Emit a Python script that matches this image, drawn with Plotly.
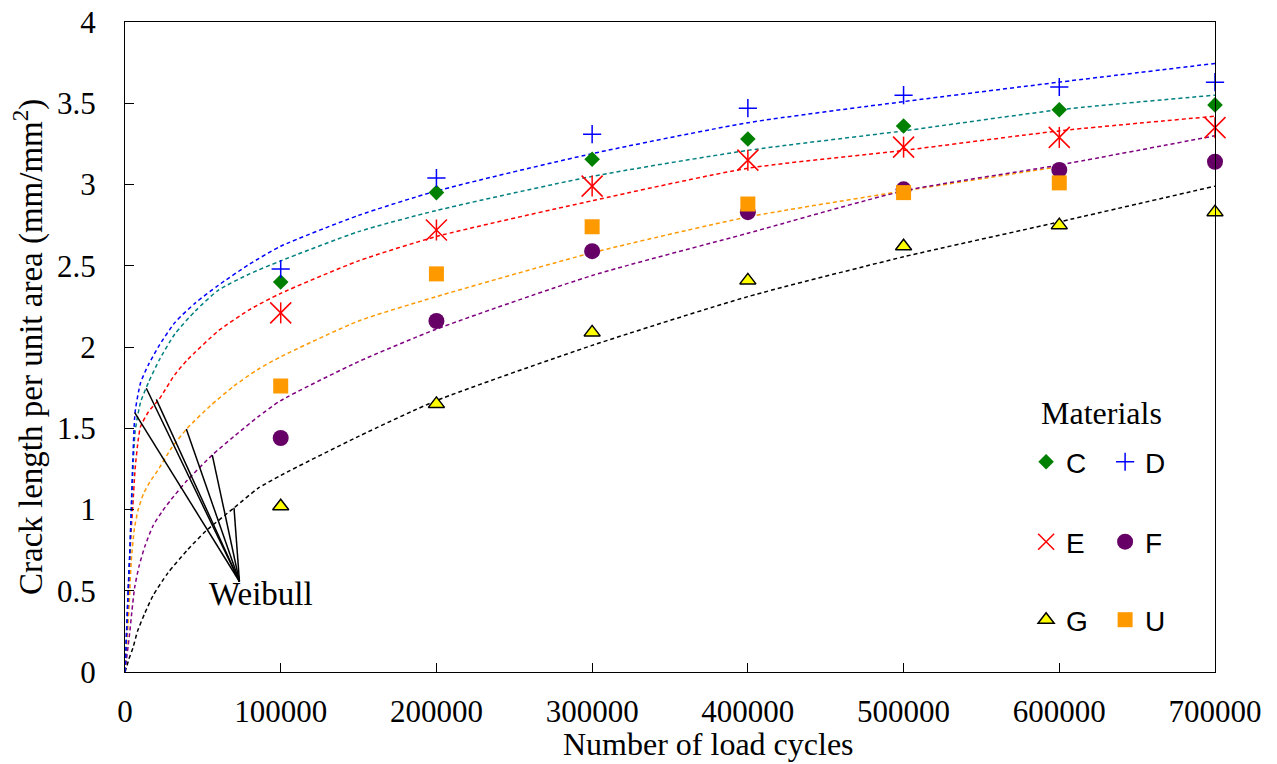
import plotly.graph_objects as go

# ---------------- data ----------------
cycles = [100000, 200000, 300000, 400000, 500000, 600000, 700000]
mat_C = [2.40, 2.95, 3.155, 3.28, 3.36, 3.46, 3.49]
mat_D = [2.48, 3.04, 3.31, 3.47, 3.55, 3.60, 3.63]
mat_E = [2.21, 2.72, 2.99, 3.15, 3.23, 3.29, 3.35]
mat_F = [1.44, 2.16, 2.59, 2.83, 2.97, 3.09, 3.14]
mat_G = [1.02, 1.65, 2.09, 2.41, 2.62, 2.75, 2.83]
mat_U = [1.76, 2.45, 2.74, 2.88, 2.95, 3.01]
cycles_U = [100000, 200000, 300000, 400000, 500000, 600000]

# Weibull fitted curves
wx_D = [0, 1000, 2000, 3000, 4000, 5000, 6500, 10000, 15000, 22000, 32000, 45000, 60000, 80000,
        100000, 150000, 200000, 300000, 400000, 500000, 600000, 700000]
wy_D = [0, 0.25, 0.50, 0.72, 1.00, 1.30, 1.60, 1.78, 1.89, 2.01, 2.15, 2.27, 2.38, 2.51,
        2.62, 2.81, 2.96, 3.19, 3.38, 3.51, 3.63, 3.745]
wx_C = [0, 1000, 2000, 3000, 4000, 5000, 6500, 10000, 15000, 22000, 32000, 45000, 60000, 80000,
        100000, 150000, 200000, 300000, 400000, 500000, 600000, 700000]
wy_C = [0, 0.24, 0.48, 0.70, 0.97, 1.22, 1.48, 1.66, 1.78, 1.92, 2.08, 2.22, 2.35, 2.45,
        2.53, 2.71, 2.84, 3.05, 3.21, 3.33, 3.46, 3.55]
wx_E = [0, 1000, 2000, 3000, 4000, 5000, 6500, 8500, 10000, 15000, 22000, 32000, 40000, 60000, 80000,
        100000, 150000, 200000, 300000, 400000, 500000, 600000, 700000]
wy_E = [0, 0.23, 0.46, 0.69, 0.88, 1.02, 1.25, 1.43, 1.51, 1.60, 1.68, 1.83, 1.92, 2.10, 2.23,
        2.33, 2.53, 2.68, 2.90, 3.10, 3.21, 3.33, 3.42]
wx_U = [0, 1000, 2000, 3000, 4000, 6000, 8500, 12000, 16000, 21000, 30000, 40000, 55000, 70000, 85000,
        100000, 150000, 200000, 300000, 400000, 500000, 600000]
wy_U = [0, 0.16, 0.30, 0.48, 0.68, 0.88, 1.00, 1.10, 1.17, 1.24, 1.38, 1.50, 1.64, 1.76, 1.86,
        1.94, 2.16, 2.31, 2.58, 2.80, 2.96, 3.11]
wx_F = [0, 1000, 2000, 3000, 4500, 6200, 9000, 12650, 18000, 24000, 29500, 40000, 56000, 70000, 85400,
        100000, 150000, 200000, 300000, 400000, 500000, 600000, 700000]
wy_F = [0, 0.08, 0.16, 0.24, 0.38, 0.52, 0.65, 0.77, 0.90, 0.99, 1.06, 1.18, 1.335, 1.45, 1.57,
        1.67, 1.91, 2.11, 2.44, 2.70, 2.96, 3.12, 3.30]
wx_G = [0, 1000, 2500, 5140, 8000, 12650, 18000, 27600, 40000, 52200, 70000, 85400,
        100000, 150000, 200000, 300000, 400000, 500000, 600000, 700000]
wy_G = [0, 0.03, 0.08, 0.15, 0.25, 0.36, 0.47, 0.61, 0.75, 0.87, 1.01, 1.13,
        1.21, 1.45, 1.67, 2.01, 2.31, 2.555, 2.77, 2.99]

x_ticks = [0, 100000, 200000, 300000, 400000, 500000, 600000, 700000]
x_tick_labels = ["0", "100000", "200000", "300000", "400000", "500000", "600000", "700000"]
y_ticks = [0, 0.5, 1, 1.5, 2, 2.5, 3, 3.5, 4]
y_tick_labels = ["0", "0.5", "1", "1.5", "2", "2.5", "3", "3.5", "4"]

# leader lines of the "Weibull" label: from common point to each curve
weibull_hub = (73500, 0.557)
weibull_targets = [(6230, 1.596), (13680, 1.746), (20100, 1.678),
                   (39370, 1.495), (56060, 1.335), (70000, 1.011)]

SERIF = "Liberation Serif"
SANS = "Liberation Sans"

fig = go.Figure()

curve_specs = [
    (wx_G, wy_G, "black"),
    (wx_U, wy_U, "#FF9900"),
    (wx_F, wy_F, "#800080"),
    (wx_E, wy_E, "#FF0000"),
    (wx_C, wy_C, "#008080"),
    (wx_D, wy_D, "#0000FF"),
]
for xs, ys, col in curve_specs:
    fig.add_trace(go.Scatter(x=xs, y=ys, mode="lines", showlegend=False,
                             line=dict(color=col, width=1.5, dash="4px,3px",
                                       shape="spline", smoothing=0.6),
                             hoverinfo="skip"))

# markers
fig.add_trace(go.Scatter(x=cycles, y=mat_C, mode="markers", name="C", legend="legend",
                         marker=dict(symbol="diamond", size=12, color="#008000"),
                         cliponaxis=False))
fig.add_trace(go.Scatter(x=cycles, y=mat_D, mode="markers", name="D", legend="legend",
                         marker=dict(symbol="cross-thin-open", size=13, color="#0000FF",
                                     line=dict(color="#0000FF", width=1.5)),
                         cliponaxis=False))
fig.add_trace(go.Scatter(x=cycles, y=mat_E, mode="markers", name="E", legend="legend2",
                         marker=dict(symbol="x-thin-open", size=21, color="#FF0000",
                                     line=dict(color="#FF0000", width=1.5)),
                         cliponaxis=False))
fig.add_trace(go.Scatter(x=cycles, y=mat_E, mode="markers", showlegend=False, legend="legend2",
                         marker=dict(symbol="line-ns-open", size=15, color="#FF0000",
                                     line=dict(color="#FF0000", width=1.5)),
                         cliponaxis=False, hoverinfo="skip"))
fig.add_trace(go.Scatter(x=cycles, y=mat_F, mode="markers", name="F", legend="legend2",
                         marker=dict(symbol="circle", size=16, color="#660066"),
                         cliponaxis=False))
fig.add_trace(go.Scatter(x=cycles, y=mat_G, mode="markers", name="G", legend="legend3",
                         marker=dict(symbol="triangle-up", size=14, color="#FFFF00",
                                     line=dict(color="black", width=1.5)),
                         cliponaxis=False))
fig.add_trace(go.Scatter(x=cycles_U, y=mat_U, mode="markers", name="U", legend="legend3",
                         marker=dict(symbol="square", size=15, color="#FF9900"),
                         cliponaxis=False))

for tx, ty in weibull_targets:
    fig.add_shape(type="line", xref="x", yref="y", x0=weibull_hub[0], y0=weibull_hub[1],
                  x1=tx, y1=ty, line=dict(color="black", width=1.5))

fig.add_annotation(x=87340, y=0.48, xref="x", yref="y", text="Weibull", showarrow=False,
                   font=dict(family=SERIF, size=33, color="black"),
                   xanchor="center", yanchor="middle")
fig.add_annotation(x=0.896, y=0.398, xref="paper", yref="paper", text="Materials",
                   showarrow=False, font=dict(family=SERIF, size=32, color="black"),
                   xanchor="center", yanchor="middle")
# axis titles
fig.add_annotation(x=0.535, y=-0.111, xref="paper", yref="paper", text="Number of load cycles",
                   showarrow=False, font=dict(family=SERIF, size=32, color="black"),
                   xanchor="center", yanchor="middle")
fig.add_annotation(x=-0.089, y=0.5, xref="paper", yref="paper", textangle=-90,
                   text="Crack length per unit area (mm/mm<sup>2</sup>)",
                   showarrow=False, font=dict(family=SERIF, size=33, color="black"),
                   xanchor="center", yanchor="middle")

leg_common = dict(orientation="h", x=0.8267, xanchor="left", yanchor="middle",
                  bgcolor="rgba(0,0,0,0)", font=dict(family=SANS, size=28, color="black"),
                  entrywidth=34, entrywidthmode="pixels", itemwidth=30, tracegroupgap=0)

fig.update_layout(
    width=1277, height=764,
    margin=dict(l=125, r=62, t=22, b=92),
    paper_bgcolor="white", plot_bgcolor="white",
    showlegend=True,
    legend=dict(y=0.323, **leg_common),
    legend2=dict(y=0.20, **leg_common),
    legend3=dict(y=0.08, **leg_common),
    xaxis=dict(range=[0, 700000], tickvals=x_ticks, ticktext=x_tick_labels,
               ticks="inside", ticklen=9, tickwidth=1, tickcolor="black",
               showline=True, linecolor="black", linewidth=1.2, mirror=True,
               showgrid=False, zeroline=False, ticklabelstandoff=12, automargin=False,
               tickfont=dict(family=SERIF, size=31, color="black")),
    yaxis=dict(range=[0, 4], tickvals=y_ticks, ticktext=y_tick_labels,
               ticks="inside", ticklen=9, tickwidth=1, tickcolor="black",
               showline=True, linecolor="black", linewidth=1.2, mirror=True,
               showgrid=False, zeroline=False, ticklabelstandoff=22, automargin=False,
               tickfont=dict(family=SERIF, size=31, color="black")),
)

fig.write_html("out.html", config={"displayModeBar": False},
               post_script="document.body.style.margin='0';")
